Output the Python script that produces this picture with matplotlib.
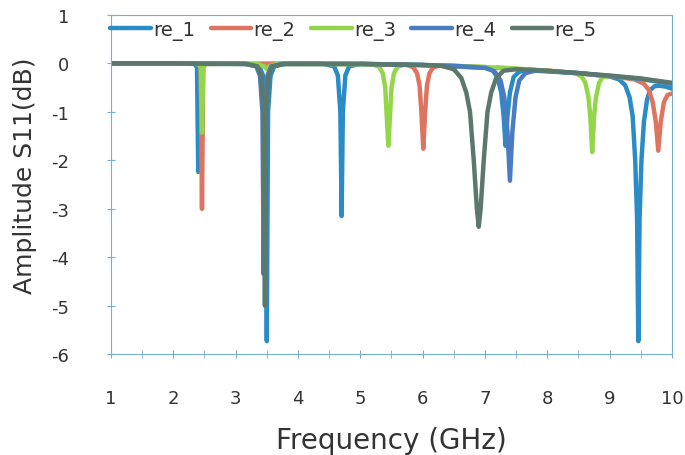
import matplotlib
matplotlib.use('Agg')
import matplotlib.pyplot as plt
from matplotlib.ticker import MultipleLocator

plt.rcParams['axes.unicode_minus'] = False

# values (GHz, dB)
re1_freq = [1.0, 2.0, 2.34, 2.38, 2.40, 2.42, 2.46, 3.2, 3.38, 3.44, 3.48, 3.50, 3.52, 3.56, 3.62, 3.8,
            4.4, 4.58, 4.64, 4.68, 4.70, 4.72, 4.76, 4.82, 5.0, 6.0, 6.6, 7.0, 7.12, 7.2, 7.26, 7.30, 7.33,
            7.36, 7.40, 7.46, 7.55, 7.7, 8.5, 9.0, 9.15, 9.25, 9.32, 9.37, 9.41, 9.44, 9.46, 9.48, 9.51,
            9.55, 9.6, 9.65, 9.72, 9.8, 9.9, 10.0]
re1_amp = [0.0, 0.0, -0.01, -0.08, -2.24, -0.08, -0.01, -0.01, -0.06, -0.25, -1.0, -5.73, -1.0, -0.25, -0.06, -0.01,
           -0.01, -0.06, -0.25, -1.0, -3.15, -1.0, -0.25, -0.06, -0.01, -0.03, -0.07, -0.09, -0.14, -0.28, -0.6, -1.1, -1.7,
           -1.1, -0.6, -0.28, -0.17, -0.13, -0.2, -0.27, -0.33, -0.45, -0.7, -1.1, -2.0, -3.2, -5.73, -3.2, -2.0,
           -1.2, -0.75, -0.55, -0.47, -0.46, -0.48, -0.52]

re2_freq = [1.0, 2.0, 2.40, 2.44, 2.46, 2.48, 2.52, 4.0, 5.0, 5.75, 5.85, 5.91, 5.95, 5.98, 6.01, 6.04, 6.07,
            6.11, 6.17, 6.3, 7.0, 8.0, 9.0, 9.4, 9.55, 9.63, 9.69, 9.74, 9.78, 9.82, 9.87, 9.93, 10.0]
re2_amp = [0.0, 0.0, -0.01, -0.08, -3.0, -0.08, -0.01, 0.0, -0.01, -0.03, -0.08, -0.2, -0.45, -1.0, -1.76, -1.0, -0.45,
           -0.2, -0.08, -0.04, -0.08, -0.15, -0.26, -0.33, -0.42, -0.55, -0.8, -1.2, -1.8, -1.2, -0.8, -0.65, -0.62]

re3_freq = [1.0, 2.0, 2.40, 2.44, 2.46, 2.48, 2.52, 3.35, 3.46, 3.50, 3.54, 3.65, 5.2, 5.3, 5.36, 5.40, 5.42,
            5.45, 5.48, 5.50, 5.54, 5.60, 5.7, 6.5, 7.0, 7.1, 7.2, 8.0, 8.45, 8.55, 8.61, 8.66, 8.69, 8.72, 8.75,
            8.78, 8.83, 8.89, 9.0, 9.5, 10.0]
re3_amp = [0.0, 0.0, -0.01, -0.08, -1.43, -0.08, -0.01, -0.01, -0.06, -0.12, -0.06, -0.01, -0.02, -0.07, -0.2, -0.5, -1.0,
           -1.7, -1.0, -0.5, -0.2, -0.07, -0.03, -0.05, -0.07, -0.1, -0.08, -0.15, -0.2, -0.27, -0.4, -0.7, -1.1, -1.83, -1.1,
           -0.7, -0.4, -0.28, -0.26, -0.32, -0.42]

re4_freq = [1.0, 2.0, 3.15, 3.33, 3.39, 3.43, 3.45, 3.47, 3.51, 3.57, 3.75, 5.0, 6.5, 7.0, 7.15, 7.25, 7.31,
            7.36, 7.40, 7.44, 7.49, 7.55, 7.65, 7.8, 8.5, 9.0, 9.5, 10.0]
re4_amp = [0.0, 0.0, -0.01, -0.06, -0.25, -1.0, -4.35, -1.0, -0.25, -0.06, -0.01, -0.01, -0.05, -0.09, -0.16, -0.35, -0.7,
           -1.4, -2.42, -1.4, -0.7, -0.35, -0.2, -0.15, -0.2, -0.26, -0.32, -0.42]

re5_freq = [1.0, 2.0, 3.17, 3.35, 3.41, 3.45, 3.47, 3.49, 3.53, 3.59, 3.77, 5.0, 6.0, 6.3, 6.5, 6.62, 6.7,
            6.76, 6.82, 6.87, 6.90, 6.93, 6.98, 7.04, 7.1, 7.18, 7.3, 7.5, 8.0, 9.0, 9.5, 10.0]
re5_amp = [0.0, 0.0, -0.01, -0.06, -0.25, -1.0, -5.0, -1.0, -0.25, -0.06, -0.01, -0.01, -0.03, -0.05, -0.12, -0.3, -0.6,
           -1.0, -2.0, -3.0, -3.37, -3.0, -2.0, -1.0, -0.6, -0.3, -0.15, -0.12, -0.15, -0.25, -0.31, -0.4]

series = [
    ('re_1', re1_freq, re1_amp, '#2a8cc6'),
    ('re_2', re2_freq, re2_amp, '#de735f'),
    ('re_3', re3_freq, re3_amp, '#93d64a'),
    ('re_4', re4_freq, re4_amp, '#4a7cc2'),
    ('re_5', re5_freq, re5_amp, '#5b786c'),
]

fig = plt.figure(figsize=(6.85, 4.56), dpi=100)
ax = fig.add_axes([0.162, 0.221, 0.819, 0.744])

for name, freq, amp, color in series:
    ax.plot(freq, amp, color=color, lw=3.2, label=name,
            solid_joinstyle='round', solid_capstyle='round')

ax.set_xlim(1, 10)
ax.set_ylim(-6, 1)
ax.xaxis.set_major_locator(MultipleLocator(1))
ax.xaxis.set_minor_locator(MultipleLocator(0.5))
ax.yaxis.set_major_locator(MultipleLocator(1))

spine_col = '#7aaed0'
for s in ax.spines.values():
    s.set_color(spine_col)
ax.tick_params(which='both', direction='inout', color=spine_col, labelcolor='#333333',
               labelsize=13, length=6)
ax.tick_params(axis='x', pad=22)
ax.tick_params(axis='y', pad=27)

ax.set_xlabel('Frequency (GHz)', fontsize=20, color='#333333', labelpad=14)
ax.set_ylabel('Amplitude S11(dB)', fontsize=18, color='#333333')
ax.yaxis.set_label_coords(-0.132, 0.53)

ax.legend(loc='center left', bbox_to_anchor=(-0.015, 0.955), ncol=5, frameon=False,
          fontsize=14, handlelength=2.1, handletextpad=0.1, columnspacing=0.8,
          borderaxespad=0, labelcolor='#333333')

fig.savefig('out.png', dpi=100)
